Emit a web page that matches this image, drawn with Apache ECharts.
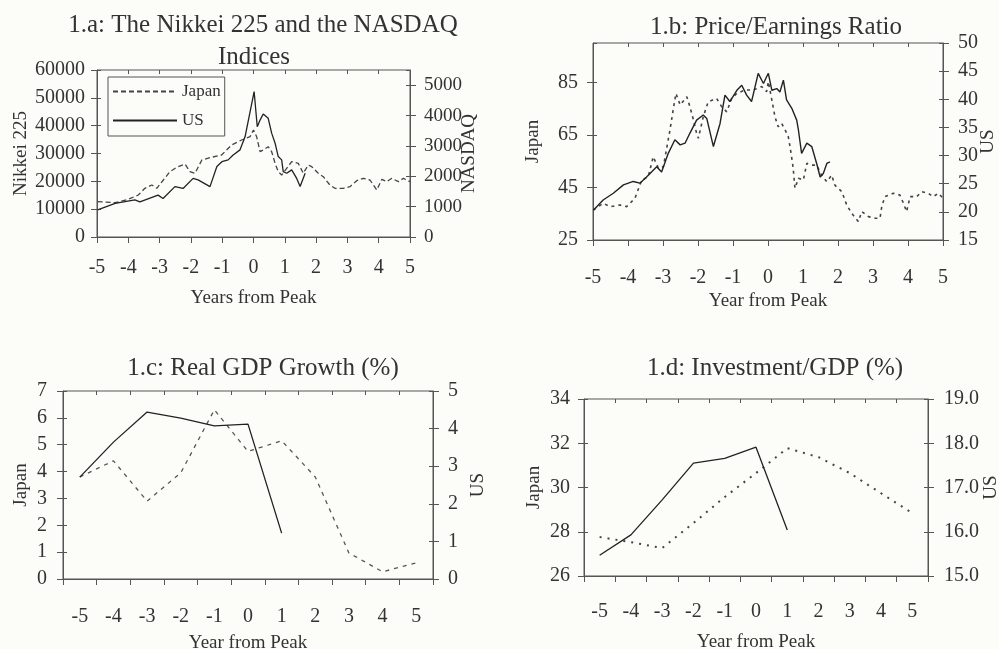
<!DOCTYPE html>
<html><head><meta charset="utf-8">
<script src="https://cdn.jsdelivr.net/npm/echarts/dist/echarts.min.js"></script>
<style>html,body{margin:0;padding:0;background:#fcfcf9}#c{width:999px;height:649px}</style>
</head><body><div id="c"></div><script>
// ---------- DATA ----------
// Panel 1.a : [years from peak, index level]
const nikkeiJapan = [[-4.98,12690],[-4.42,12330],[-4.0,13550],[-3.68,15090],[-3.47,17500],[-3.25,18690],[-3.09,17500],[-2.88,20480],[-2.67,23460],[-2.45,25040],[-2.19,26230],[-2.03,23460],[-1.87,22890],[-1.65,27670],[-1.34,28640],[-1.02,29460],[-0.70,33060],[-0.38,34850],[-0.11,36040],[0.0,38450],[0.10,36040],[0.21,30650],[0.31,31260],[0.47,32450],[0.58,30650],[0.69,26480],[0.79,23460],[0.90,22280],[1.06,24690],[1.22,27060],[1.43,26480],[1.59,22890],[1.75,25870],[1.86,25260],[2.07,22890],[2.23,21670],[2.44,18690],[2.60,17500],[2.87,17500],[3.08,18090],[3.30,20230],[3.51,21090],[3.72,20480],[3.94,16890],[4.10,20730],[4.26,19870],[4.42,21090],[4.63,19870],[4.79,21090],[5.0,19870]];
const nasdaqUS = [[-4.98,890],[-4.42,1110],[-3.79,1220],[-3.63,1160],[-3.05,1380],[-2.89,1270],[-2.51,1660],[-2.25,1600],[-1.93,1930],[-1.77,1880],[-1.39,1660],[-1.17,2320],[-1.01,2480],[-0.81,2540],[-0.65,2700],[-0.43,2870],[-0.27,3300],[0.02,4790],[0.12,3630],[0.21,3850],[0.31,4050],[0.47,3910],[0.58,3420],[0.69,3090],[0.79,2650],[0.90,2540],[0.95,2150],[1.06,2100],[1.22,2210],[1.38,1930],[1.49,1660],[1.65,2100]];
// Panel 1.b : [years from peak, P/E]
const peJapan = [[-4.99,36.4],[-4.71,39.0],[-4.51,37.7],[-4.23,38.3],[-4.04,37.7],[-3.80,40.9],[-3.61,47.8],[-3.42,49.1],[-3.28,56.7],[-3.13,52.3],[-2.99,52.9],[-2.80,66.9],[-2.71,74.5],[-2.63,80.8],[-2.51,76.4],[-2.32,79.5],[-2.23,75.7],[-2.13,70.7],[-2.04,65.6],[-1.99,63.7],[-1.85,71.9],[-1.71,77.6],[-1.47,78.9],[-1.32,75.7],[-1.18,73.8],[-1.04,78.9],[-0.89,80.8],[-0.66,82.1],[-0.42,82.1],[-0.18,83.4],[-0.04,81.5],[0.01,85.3],[0.11,78.3],[0.20,71.9],[0.29,68.1],[0.39,69.4],[0.49,66.9],[0.58,64.3],[0.63,60.5],[0.68,56.1],[0.72,52.3],[0.77,44.7],[0.87,48.5],[1.01,47.8],[1.11,54.2],[1.25,53.5],[1.39,53.5],[1.53,49.7],[1.68,47.2],[1.82,49.7],[1.91,45.9],[2.11,43.4],[2.25,38.3],[2.39,35.2],[2.58,32.0],[2.68,35.8],[2.87,33.9],[3.06,33.3],[3.20,33.3],[3.25,37.7],[3.34,41.5],[3.58,42.8],[3.77,42.1],[3.87,39.0],[3.96,35.8],[4.06,41.5],[4.25,41.5],[4.39,43.4],[4.58,42.8],[4.72,41.5],[4.87,42.8],[5.0,40.9]];
const peUS = [[-4.99,20.3],[-4.71,22.1],[-4.42,23.3],[-4.13,24.8],[-3.85,25.4],[-3.66,25.1],[-3.47,26.2],[-3.18,28.0],[-3.04,27.1],[-2.85,30.4],[-2.66,32.8],[-2.51,31.9],[-2.37,32.2],[-2.23,34.0],[-2.04,36.3],[-1.85,37.2],[-1.75,36.6],[-1.56,31.6],[-1.37,35.7],[-1.23,40.75],[-1.09,39.6],[-0.89,41.6],[-0.75,42.5],[-0.61,40.75],[-0.47,39.6],[-0.28,44.6],[-0.13,42.8],[-0.04,44.0],[0.01,44.6],[0.11,41.6],[0.25,41.9],[0.34,41.3],[0.44,43.4],[0.53,39.9],[0.68,38.4],[0.82,36.3],[0.87,34.5],[0.96,30.4],[1.11,32.2],[1.25,31.6],[1.39,28.6],[1.49,26.2],[1.58,26.8],[1.68,28.6],[1.77,28.9]];
// Panels 1.c and 1.d : annual
const years = ['-5','-4','-3','-2','-1','0','1','2','3','4','5'];
const gdpJapan = [3.8,4.4,2.9,3.95,6.3,4.75,5.15,3.8,0.97,0.27,0.6];
const gdpUS = [2.71,3.64,4.44,4.28,4.07,4.12,1.22];
const invJapan = [27.76,27.53,27.26,28.39,29.57,30.65,31.78,31.37,30.65,29.74,28.84];
const invUS = [15.47,15.93,16.72,17.55,17.66,17.91,16.04];

// ---------- STYLE ----------
const FONT = "'Liberation Serif','DejaVu Serif',serif";
const INK = '#333';
const AX = '#555';
const TICK_FS = 20, NAME_FS = 19, TITLE_FS = 25;
const axisLine = {show:true, onZero:false, lineStyle:{color:AX, width:1}};
const axisTick = {show:true, length:6, lineStyle:{color:AX, width:1}};
const plain = function(v){ return String(v); };
function yAx(grid, pos, min, max, interval, name, nameGap, margin, labelExtra){
  return {
    type:'value', gridIndex:grid, position:pos, min:min, max:max, interval:interval,
    name:name, nameLocation:'middle', nameGap:nameGap, nameRotate:90, nameMoveOverlap:false,
    nameTextStyle:{fontFamily:FONT, fontSize:NAME_FS, color:INK},
    axisLine:axisLine, axisTick:axisTick, splitLine:{show:false},
    axisLabel:Object.assign({fontFamily:FONT, fontSize:TICK_FS, color:INK, margin:margin, formatter:plain}, labelExtra||{})
  };
}
function xVal(grid, name, margin, nameGap){
  return {type:'value', gridIndex:grid, min:-5, max:5, interval:1,
    name:name, nameLocation:'middle', nameGap:nameGap, nameMoveOverlap:false,
    nameTextStyle:{fontFamily:FONT, fontSize:NAME_FS, color:INK},
    axisLine:axisLine, axisTick:axisTick, splitLine:{show:false},
    axisLabel:{fontFamily:FONT, fontSize:TICK_FS, color:INK, margin:margin, formatter:plain}};
}
function xCat(grid, name, margin, nameGap){
  return {type:'category', gridIndex:grid, data:years, boundaryGap:true,
    name:name, nameLocation:'middle', nameGap:nameGap, nameMoveOverlap:false,
    nameTextStyle:{fontFamily:FONT, fontSize:NAME_FS, color:INK},
    axisLine:axisLine, axisTick:axisTick, splitLine:{show:false},
    axisLabel:{fontFamily:FONT, fontSize:TICK_FS, color:INK, margin:margin}};
}
// copy of an axis that only draws short inward ticks, giving the "+" tick marks of the original
function inner(ax){
  const c = Object.assign({}, ax);
  c.name = '';
  c.axisLine = {show:false, onZero:false};
  c.axisLabel = {show:false};
  c.axisTick = {show:true, inside:true, length:4, lineStyle:{color:AX, width:1}};
  return c;
}
const gridBase = {show:true, borderColor:AX, borderWidth:1, backgroundColor:'transparent', containLabel:false, outerBoundsMode:'none'};
const titleStyle = {fontFamily:FONT, fontSize:TITLE_FS, fontWeight:'normal', color:INK};
function ln(name, x, y, data, type, width, color){
  return {type:'line', name:name, xAxisIndex:x, yAxisIndex:y, data:data, symbol:'none',
    lineStyle:{type:type, width:width, color:color}, itemStyle:{color:color}, silent:true, animation:false};
}

const xAxes = [
  xVal(0, 'Years from Peak', 21, 52),
  xVal(1, 'Year from Peak', 28, 52),
  xCat(2, 'Year from Peak', 28, 55),
  xCat(3, 'Year from Peak', 26, 57)
];
const yAxes = [
  yAx(0, 'left', 0, 60000, 10000, 'Nikkei 225', 66, 12),
  yAx(0, 'right', 0, 5500, 1000, 'NASDAQ', 50, 14, {showMaxLabel:false, fontSize:19}),
  yAx(1, 'left', 25, 100, 20, 'Japan', 50, 15, {showMaxLabel:false}),
  yAx(1, 'right', 15, 50, 5, 'US', 36, 15),
  yAx(2, 'left', 0, 7, 1, 'Japan', 32, 16),
  yAx(2, 'right', 0, 5, 1, 'US', 36, 15),
  yAx(3, 'left', 26, 34, 2, 'Japan', 40, 14),
  yAx(3, 'right', 15, 19, 1, 'US', 54, 16, {formatter:function(v){return v.toFixed(1);}})
];
const xAll = xAxes.concat(xAxes.map(inner));
const yAll = yAxes.concat(yAxes.map(inner));

const chart = echarts.init(document.getElementById('c'), null, {renderer:'canvas'});
chart.setOption({
  backgroundColor:'#fcfcf9',
  animation:false,
  title:[
    {text:'1.a: The Nikkei 225 and the NASDAQ', left:263, top:13, textAlign:'center', padding:0, textStyle:titleStyle},
    {text:'Indices', left:254, top:45, textAlign:'center', padding:0, textStyle:titleStyle},
    {text:'1.b: Price/Earnings Ratio', left:776, top:15, textAlign:'center', padding:0, textStyle:titleStyle},
    {text:'1.c: Real GDP Growth (%)', left:263, top:356, textAlign:'center', padding:0, textStyle:titleStyle},
    {text:'1.d: Investment/GDP (%)', left:775, top:356, textAlign:'center', padding:0, textStyle:titleStyle}
  ],
  legend:{data:['Japan','US'], orient:'vertical', left:108, top:77, itemWidth:64, itemHeight:14, itemGap:12,
    padding:[6,4,7,4], borderColor:AX, borderWidth:1, backgroundColor:'#fcfcf9',
    itemStyle:{opacity:0},
    textStyle:{fontFamily:FONT, fontSize:17, color:INK}, selectedMode:false},
  grid:[
    Object.assign({left:97, top:70, width:313, height:167}, gridBase),
    Object.assign({left:593, top:43, width:350, height:197}, gridBase),
    Object.assign({left:63, top:391, width:370, height:188}, gridBase),
    Object.assign({left:584, top:399, width:344, height:177}, gridBase)
  ],
  xAxis:xAll,
  yAxis:yAll,
  series:[
    ln('Japan', 0, 0, nikkeiJapan, [5,3], 1.3, '#444'),
    ln('US', 0, 1, nasdaqUS, 'solid', 1.3, '#222'),
    ln('Japan P/E', 1, 2, peJapan, [3,4], 1.6, '#444'),
    ln('US P/E', 1, 3, peUS, 'solid', 1.4, '#222'),
    ln('Japan GDP', 2, 4, gdpJapan, [4,5], 1.3, '#555'),
    ln('US GDP', 2, 5, gdpUS, 'solid', 1.3, '#222'),
    ln('Japan Inv', 3, 6, invJapan, [2,6], 2, '#444'),
    ln('US Inv', 3, 7, invUS, 'solid', 1.3, '#222')
  ]
});
</script></body></html>
